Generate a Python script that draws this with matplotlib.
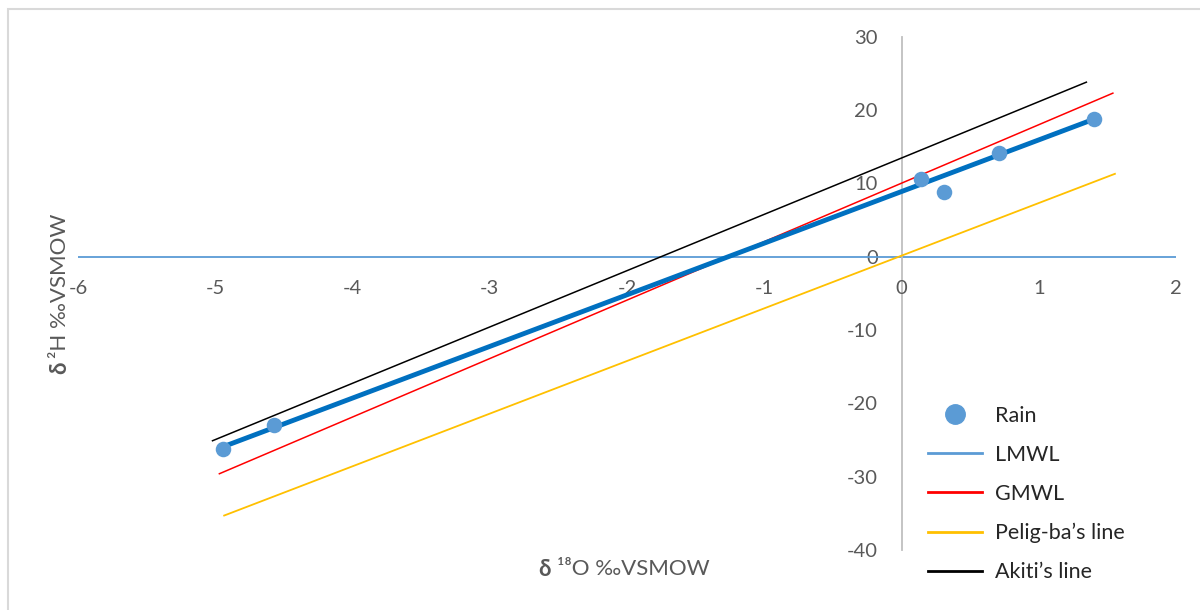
import matplotlib
matplotlib.use("Agg")
import matplotlib.pyplot as plt
from matplotlib.lines import Line2D
from matplotlib.patches import Rectangle

plt.rcParams.update({
    "font.family": ["Lato", "DejaVu Sans"],
    "font.size": 14,
    "axes.unicode_minus": False,
})

# ── data ──
rain_x = [-4.94, -4.57, 0.14, 0.31, 0.71, 1.40]
rain_y = [-26.2, -22.9, 10.6, 8.8, 14.1, 18.75]

# line end points (x, y)
lmwl_x = [-4.94, 1.40]
lmwl_y = [-25.9, 18.74]
gmwl_x = [-4.97, 1.54]
gmwl_y = [-29.6, 22.3]
peligba_x = [-4.935, 1.555]
peligba_y = [-35.3, 11.3]
akiti_x = [-5.02, 1.347]
akiti_y = [-25.1, 23.8]
axis0_x = [-6, 2]
axis0_y = [0, 0]

x_ticks = [-6, -5, -4, -3, -2, -1, 0, 1, 2]
y_ticks = [-40, -30, -20, -10, 0, 10, 20, 30]

GRAY_TXT = "#595959"

fig = plt.figure(figsize=(12, 6.1), dpi=100)
ax = fig.add_axes([78 / 1200, 1 - 550 / 610, (1176 - 78) / 1200, (550 - 36.7) / 610])

# light blue horizontal line at zero
ax.plot(axis0_x, axis0_y, color="#5B9BD5", lw=1.3, zorder=2)

ax.plot(akiti_x, akiti_y, color="black", lw=1.1, zorder=3)
ax.plot(gmwl_x, gmwl_y, color="#FF0000", lw=1.1, zorder=3)
ax.plot(peligba_x, peligba_y, color="#FFC000", lw=1.3, zorder=3)
ax.plot(lmwl_x, lmwl_y, color="#0070C0", lw=3.5, zorder=4, solid_capstyle="butt")
ax.scatter(rain_x, rain_y, s=125, color="#5B9BD5", zorder=5, linewidths=0)

ax.set_xlim(-6, 2)
ax.set_ylim(-40, 30)
ax.set_xticks(x_ticks)
ax.set_yticks(y_ticks)
ax.spines["left"].set_position(("data", 0))
ax.spines["left"].set_color("#BFBFBF")
ax.spines["left"].set_linewidth(1.3)
for s in ["right", "top", "bottom"]:
    ax.spines[s].set_visible(False)
ax.tick_params(axis="both", length=0, labelsize=14.5, labelcolor=GRAY_TXT)
ax.tick_params(axis="y", pad=17)
# x tick labels sit just below the zero line
ax.set_xticklabels([])
for xv in x_ticks:
    ax.text(xv, -4.3, f"{xv}", ha="center", va="center",
            fontsize=14.5, color=GRAY_TXT)

# axis titles: bold delta + normal rest
fig.text(551 / 1200, 1 - 569 / 610, "δ", fontsize=16, fontweight="bold",
         color=GRAY_TXT, ha="right", va="center")
fig.text(557 / 1200, 1 - 569 / 610, "¹⁸O ‰VSMOW", fontsize=16,
         color=GRAY_TXT, ha="left", va="center")
fig.text(60 / 1200, 1 - 362 / 610, "δ", fontsize=16, fontweight="bold",
         color=GRAY_TXT, ha="center", va="top", rotation=90)
fig.text(60 / 1200, 1 - 358 / 610, "²H ‰VSMOW", fontsize=16,
         color=GRAY_TXT, ha="center", va="bottom", rotation=90)

handles = [
    Line2D([], [], marker="o", ls="none", color="#5B9BD5", markersize=14),
    Line2D([], [], color="#5B9BD5", lw=2),
    Line2D([], [], color="#FF0000", lw=2),
    Line2D([], [], color="#FFC000", lw=2),
    Line2D([], [], color="black", lw=2),
]
labels = ["Rain", "LMWL", "GMWL", "Pelig-ba’s line", "Akiti’s line"]
fig.legend(handles, labels, loc="upper left",
           bbox_to_anchor=(928 / 1200, 1 - 406 / 610),
           frameon=False, fontsize=15.5, handlelength=2.5, handletextpad=0.6,
           labelspacing=0.88, borderpad=0, borderaxespad=0,
           labelcolor="#262626")

# outer border (top and left only visible)
fig.patches.append(Rectangle((7.5 / 1200, -0.1), 1.2, 1 - 9 / 610 + 0.1,
                             transform=fig.transFigure, fill=False,
                             edgecolor="#D9D9D9", lw=1.5))

fig.savefig("out.png", dpi=100)
